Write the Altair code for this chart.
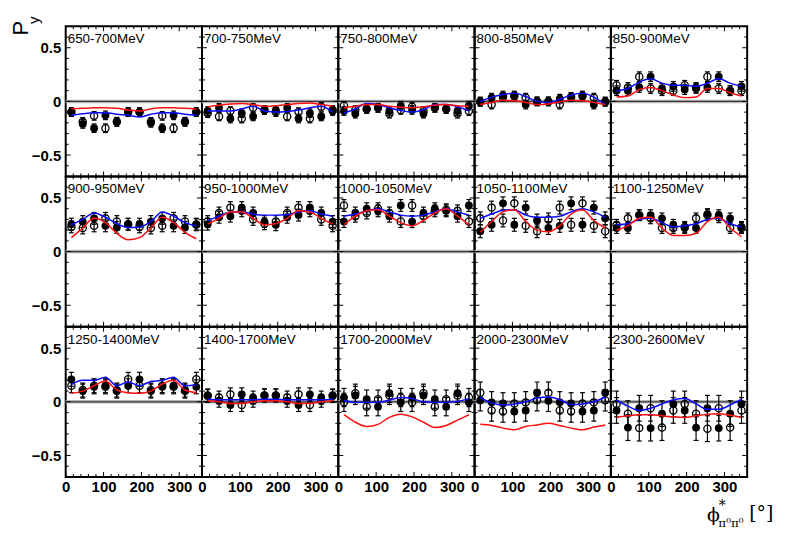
import altair as alt
import pandas as pd

PHI = [15, 45, 75, 105, 135, 165, 195, 225, 255, 285, 315, 345]

LABELS = ["650-700MeV", "700-750MeV", "750-800MeV", "800-850MeV", "850-900MeV",
          "900-950MeV", "950-1000MeV", "1000-1050MeV", "1050-1100MeV", "1100-1250MeV",
          "1250-1400MeV", "1400-1700MeV", "1700-2000MeV", "2000-2300MeV", "2300-2600MeV"]

FILLED = [
    [-0.10, -0.21, -0.25, -0.13, -0.19, -0.10, -0.10, -0.20, -0.25, -0.13, -0.19, -0.10],
    [-0.09, -0.06, -0.16, -0.11, -0.14, -0.08, -0.08, -0.06, -0.16, -0.11, -0.14, -0.09],
    [-0.09, -0.115, -0.07, -0.06, -0.09, -0.04, -0.08, -0.115, -0.06, -0.07, -0.09, -0.04],
    [0.00, 0.035, 0.055, 0.045, -0.03, 0.00, 0.00, 0.025, 0.04, 0.045, -0.03, 0.00],
    [0.10, 0.10, 0.13, 0.23, 0.12, 0.14, 0.11, 0.12, 0.13, 0.23, 0.10, 0.14],
    [0.256, 0.28, 0.31, 0.24, 0.225, 0.256, 0.256, 0.28, 0.31, 0.24, 0.225, 0.256],
    [0.256, 0.32, 0.33, 0.41, 0.36, 0.28, 0.25, 0.32, 0.34, 0.41, 0.36, 0.28],
    [0.28, 0.36, 0.40, 0.38, 0.33, 0.43, 0.28, 0.36, 0.40, 0.38, 0.33, 0.43],
    [0.19, 0.25, 0.45, 0.25, 0.41, 0.29, 0.22, 0.24, 0.45, 0.25, 0.41, 0.31],
    [0.22, 0.22, 0.34, 0.34, 0.31, 0.25, 0.22, 0.22, 0.35, 0.34, 0.31, 0.23],
    [0.21, 0.10, 0.14, 0.15, 0.11, 0.15, 0.21, 0.10, 0.14, 0.15, 0.11, 0.14],
    [0.055, 0.01, -0.03, 0.07, 0.04, 0.06, 0.06, 0.01, -0.03, 0.07, 0.04, 0.055],
    [0.04, 0.06, 0.025, -0.045, 0.08, -0.005, 0.04, 0.06, 0.025, -0.045, 0.08, -0.005],
    [0.015, -0.005, -0.015, -0.09, -0.08, 0.085, 0.01, -0.005, -0.015, -0.09, -0.08, 0.085],
    [-0.08, -0.24, -0.06, -0.245, -0.11, -0.02, -0.08, -0.24, -0.06, -0.245, -0.11, -0.02],
]

OPEN = [
    [-0.10, -0.19, -0.135, -0.25, -0.19, -0.10, -0.10, -0.19, -0.135, -0.25, -0.19, -0.10],
    [-0.11, -0.14, -0.09, -0.16, -0.06, -0.08, -0.10, -0.14, -0.10, -0.16, -0.05, -0.08],
    [-0.04, -0.08, -0.07, -0.06, -0.115, -0.08, -0.05, -0.09, -0.06, -0.07, -0.115, -0.09],
    [-0.005, -0.03, 0.04, 0.055, 0.035, 0.00, 0.00, -0.03, 0.04, 0.055, 0.035, -0.005],
    [0.15, 0.13, 0.23, 0.12, 0.10, 0.10, 0.15, 0.13, 0.23, 0.12, 0.10, 0.10],
    [0.23, 0.22, 0.24, 0.31, 0.28, 0.256, 0.23, 0.22, 0.24, 0.31, 0.28, 0.25],
    [0.28, 0.36, 0.41, 0.38, 0.30, 0.26, 0.28, 0.36, 0.41, 0.38, 0.30, 0.24],
    [0.43, 0.33, 0.36, 0.40, 0.36, 0.28, 0.43, 0.33, 0.38, 0.39, 0.38, 0.28],
    [0.31, 0.41, 0.29, 0.45, 0.24, 0.19, 0.30, 0.41, 0.25, 0.45, 0.24, 0.19],
    [0.25, 0.31, 0.34, 0.31, 0.22, 0.22, 0.23, 0.31, 0.34, 0.32, 0.22, 0.22],
    [0.15, 0.11, 0.15, 0.14, 0.10, 0.21, 0.15, 0.11, 0.15, 0.14, 0.10, 0.21],
    [0.06, 0.04, 0.07, -0.03, 0.01, 0.06, 0.06, 0.04, 0.07, -0.03, 0.01, 0.06],
    [-0.005, 0.08, -0.045, 0.025, 0.06, 0.04, -0.005, 0.08, -0.045, 0.025, 0.06, 0.04],
    [0.085, -0.08, -0.09, -0.015, -0.005, 0.015, 0.085, -0.08, -0.09, -0.015, -0.005, 0.015],
    [-0.02, -0.11, -0.245, -0.06, -0.24, -0.08, -0.02, -0.11, -0.25, -0.06, -0.24, -0.08],
]

ERR_FILLED = [0.04, 0.04, 0.04, 0.04, 0.045, 0.055, 0.055, 0.055, 0.06, 0.05,
              0.065, 0.06, 0.085, 0.10, 0.12]
ERR_OPEN = [0.04, 0.04, 0.04, 0.04, 0.045, 0.055, 0.055, 0.055, 0.06, 0.05,
            0.065, 0.06, 0.085, 0.10, 0.12]

BLUE = [
    [-0.13, -0.115, -0.105, -0.105, -0.12, -0.13, -0.145, -0.12, -0.105, -0.105, -0.12, -0.13],
    [-0.09, -0.09, -0.09, -0.07, -0.045, -0.09, -0.10, -0.095, -0.08, -0.06, -0.045, -0.10],
    [-0.11, -0.07, -0.02, -0.03, -0.06, -0.085, -0.10, -0.077, -0.03, -0.03, -0.05, -0.09],
    [0.00, 0.04, 0.065, 0.077, 0.045, 0.00, -0.01, 0.02, 0.06, 0.077, 0.04, -0.03],
    [0.10, 0.12, 0.18, 0.21, 0.17, 0.15, 0.15, 0.14, 0.17, 0.21, 0.17, 0.14],
    [0.25, 0.30, 0.36, 0.32, 0.26, 0.225, 0.23, 0.28, 0.37, 0.33, 0.27, 0.24],
    [0.29, 0.33, 0.37, 0.37, 0.35, 0.34, 0.34, 0.345, 0.37, 0.38, 0.35, 0.33],
    [0.33, 0.35, 0.38, 0.40, 0.37, 0.34, 0.33, 0.34, 0.37, 0.40, 0.37, 0.34],
    [0.31, 0.35, 0.385, 0.39, 0.34, 0.32, 0.32, 0.33, 0.37, 0.40, 0.37, 0.32],
    [0.25, 0.26, 0.30, 0.31, 0.27, 0.23, 0.24, 0.26, 0.30, 0.31, 0.26, 0.23],
    [0.16, 0.20, 0.20, 0.23, 0.15, 0.185, 0.15, 0.19, 0.20, 0.23, 0.15, 0.16],
    [0.025, 0.02, 0.02, 0.02, 0.02, 0.025, 0.025, 0.02, 0.02, 0.02, 0.02, 0.025],
    [0.015, -0.005, -0.005, -0.005, 0.015, 0.04, 0.03, 0.0, -0.005, -0.005, 0.005, 0.03],
    [0.04, -0.01, -0.03, -0.02, 0.0, 0.035, 0.045, 0.02, -0.025, -0.02, 0.0, 0.045],
    [0.015, -0.04, -0.08, -0.06, -0.02, 0.02, 0.03, -0.02, -0.07, -0.07, -0.03, 0.025],
]

RED = [
    [-0.07, -0.065, -0.06, -0.06, -0.065, -0.08, -0.09, -0.07, -0.06, -0.06, -0.065, -0.07],
    [-0.05, -0.035, -0.025, -0.02, -0.03, -0.045, -0.04, -0.03, -0.02, -0.015, -0.03, -0.045],
    [-0.06, -0.045, -0.03, -0.03, -0.045, -0.055, -0.06, -0.05, -0.035, -0.03, -0.04, -0.045],
    [-0.03, -0.01, 0.01, 0.005, -0.01, -0.03, -0.025, -0.005, 0.01, 0.005, -0.01, -0.03],
    [0.04, 0.05, 0.11, 0.13, 0.10, 0.06, 0.035, 0.04, 0.12, 0.12, 0.08, 0.05],
    [0.13, 0.22, 0.31, 0.27, 0.17, 0.11, 0.13, 0.22, 0.32, 0.27, 0.18, 0.12],
    [0.256, 0.31, 0.37, 0.37, 0.31, 0.25, 0.26, 0.31, 0.38, 0.37, 0.31, 0.256],
    [0.25, 0.33, 0.38, 0.39, 0.33, 0.27, 0.24, 0.29, 0.36, 0.40, 0.33, 0.25],
    [0.18, 0.28, 0.37, 0.39, 0.28, 0.20, 0.185, 0.24, 0.35, 0.39, 0.29, 0.22],
    [0.20, 0.24, 0.31, 0.32, 0.22, 0.15, 0.15, 0.17, 0.28, 0.32, 0.22, 0.14],
    [0.08, 0.10, 0.15, 0.195, 0.11, 0.085, 0.08, 0.10, 0.165, 0.20, 0.11, 0.085],
    [0.01, 0.0, -0.015, -0.015, 0.0, 0.01, 0.01, 0.0, -0.015, -0.015, 0.0, 0.01],
    [-0.12, -0.19, -0.23, -0.21, -0.145, -0.115, -0.14, -0.19, -0.24, -0.22, -0.17, -0.12],
    [-0.21, -0.22, -0.245, -0.26, -0.23, -0.215, -0.20, -0.22, -0.245, -0.26, -0.235, -0.215],
    [-0.145, -0.13, -0.12, -0.12, -0.13, -0.14, -0.145, -0.13, -0.115, -0.11, -0.125, -0.145],
]

X_LABELS = [0, 100, 200, 300]
X_MINOR = [20, 40, 60, 80, 120, 140, 160, 180, 220, 240, 260, 280, 320, 340]
Y_LABELS = [-0.5, 0, 0.5]
Y_MINOR = [-0.6, -0.4, -0.3, -0.2, -0.1, 0.1, 0.2, 0.3, 0.4, 0.6]

W, H = 137, 151
FONT = "Liberation Sans"
SERIF = "DejaVu Serif"
MAJ, MIN = 5, 3


def panel(i):
    row, col = divmod(i, 5)
    xscale = alt.Scale(domain=[0, 360], nice=False, zero=False)
    yscale = alt.Scale(domain=[-0.7, 0.7], nice=False, zero=False)
    if row == 2:
        xaxis = alt.Axis(values=X_LABELS, format="d", title=None, ticks=False, tickSize=0,
                         domain=False, grid=False, labelFlush=False, labelOverlap=False,
                         labelPadding=3, labelFont=FONT, labelFontSize=15,
                         labelFontWeight="bold", labelColor="black")
    else:
        xaxis = None
    if col == 0:
        yaxis = alt.Axis(values=Y_LABELS, format="~g", title=None, ticks=False, tickSize=0,
                         domain=False, grid=False, labelOverlap=False, labelPadding=5,
                         labelFont=FONT, labelFontSize=15, labelFontWeight="bold",
                         labelColor="black")
    else:
        yaxis = None

    def X(f):
        return alt.X(f"{f}:Q", scale=xscale, axis=xaxis)

    def Y(f):
        return alt.Y(f"{f}:Q", scale=yscale, axis=yaxis)

    filled = pd.DataFrame({"phi": PHI, "val": FILLED[i]})
    filled["lo"] = filled["val"] - ERR_FILLED[i]
    filled["hi"] = filled["val"] + ERR_FILLED[i]
    opened = pd.DataFrame({"phi": PHI, "val": OPEN[i]})
    opened["lo"] = opened["val"] - ERR_OPEN[i]
    opened["hi"] = opened["val"] + ERR_OPEN[i]
    pts = pd.concat([filled, opened], ignore_index=True)
    caps = pd.DataFrame({"phi": list(pts["phi"]) * 2,
                         "c": list(pts["lo"]) + list(pts["hi"])})
    curves = pd.DataFrame({"phi": PHI * 2, "val": BLUE[i] + RED[i],
                           "model": ["blue"] * 12 + ["red"] * 12})

    zero = pd.DataFrame({"z": [0.0]})
    xmaj = pd.DataFrame({"t": X_LABELS})
    xmin = pd.DataFrame({"t": X_MINOR})
    ymaj = pd.DataFrame({"t": Y_LABELS})
    ymin = pd.DataFrame({"t": Y_MINOR})

    layers = []
    layers.append(alt.Chart(zero).mark_rule(color="#b8b8b8", strokeWidth=3.5).encode(y=Y("z")))
    layers.append(alt.Chart(zero).mark_rule(color="#3a3a3a", strokeWidth=1.2).encode(y=Y("z")))

    # ticks
    for df, ln in ((xmaj, MAJ), (xmin, MIN)):
        layers.append(alt.Chart(df).mark_rule(color="black", strokeWidth=1).encode(
            x=X("t"), y=alt.value(H), y2=alt.value(H - ln)))
        layers.append(alt.Chart(df).mark_rule(color="black", strokeWidth=1).encode(
            x=X("t"), y=alt.value(0), y2=alt.value(ln)))
    for df, ln in ((ymaj, MAJ), (ymin, MIN)):
        layers.append(alt.Chart(df).mark_rule(color="black", strokeWidth=1).encode(
            y=Y("t"), x=alt.value(0), x2=alt.value(ln)))
        layers.append(alt.Chart(df).mark_rule(color="black", strokeWidth=1).encode(
            y=Y("t"), x=alt.value(W), x2=alt.value(W - ln)))

    # error bars
    layers.append(alt.Chart(pts).mark_rule(color="black", strokeWidth=1.2).encode(
        x=X("phi"), y=Y("lo"), y2="hi"))
    layers.append(alt.Chart(caps).mark_tick(orient="horizontal", size=5, thickness=1.2,
                                            color="black", opacity=1).encode(
        x=X("phi"), y=Y("c")))
    # open then filled circles
    layers.append(alt.Chart(opened).mark_point(shape="circle", filled=False, size=52,
                                               strokeWidth=1.3, color="black", opacity=1).encode(
        x=X("phi"), y=Y("val")))
    layers.append(alt.Chart(filled).mark_point(shape="circle", filled=True, size=62,
                                               color="black", opacity=1).encode(
        x=X("phi"), y=Y("val")))
    # model curves
    layers.append(alt.Chart(curves).mark_line(interpolate="monotone", strokeWidth=1.5).encode(
        x=X("phi"), y=Y("val"),
        color=alt.Color("model:N", scale=alt.Scale(domain=["blue", "red"],
                                                    range=["#0a0aff", "#ff1010"]), legend=None)))

    # panel label
    layers.append(alt.Chart(pd.DataFrame({"label": [LABELS[i]]})).mark_text(
        align="left", baseline="alphabetic", font=FONT, fontSize=13.5, color="black").encode(
        text="label:N", x=alt.value(2), y=alt.value(17)))

    if i == 0:
        layers.append(alt.Chart(pd.DataFrame({"s": ["P"]})).mark_text(
            angle=270, align="center", baseline="middle", font=FONT, fontSize=22,
            color="black").encode(text="s:N", x=alt.value(-45), y=alt.value(2)))
        layers.append(alt.Chart(pd.DataFrame({"s": ["y"]})).mark_text(
            angle=270, align="center", baseline="middle", font=FONT, fontSize=15,
            color="black").encode(text="s:N", x=alt.value(-32), y=alt.value(-6)))
    if i == 14:
        layers.append(alt.Chart(pd.DataFrame({"s": ["ϕ"]})).mark_text(
            align="center", baseline="middle", font=SERIF, fontSize=19,
            color="black").encode(text="s:N", x=alt.value(103), y=alt.value(189)))
        layers.append(alt.Chart(pd.DataFrame({"s": ["*"]})).mark_text(
            align="center", baseline="middle", font=SERIF, fontSize=14,
            color="black").encode(text="s:N", x=alt.value(112), y=alt.value(180)))
        layers.append(alt.Chart(pd.DataFrame({"s": ["π⁰π⁰"]})).mark_text(
            align="left", baseline="middle", font=SERIF, fontSize=12,
            color="black").encode(text="s:N", x=alt.value(108), y=alt.value(197)))
        layers.append(alt.Chart(pd.DataFrame({"s": ["[°]"]})).mark_text(
            align="left", baseline="middle", font=SERIF, fontSize=19,
            color="black").encode(text="s:N", x=alt.value(139), y=alt.value(187)))

    return alt.layer(*layers).properties(width=W, height=H)


panels = [panel(i) for i in range(15)]

chart = alt.concat(*panels, columns=5, spacing=0, bounds="flush").configure_view(
    stroke="black", strokeWidth=2
).properties(
    padding={"left": 1, "top": 6, "right": 5, "bottom": 5}
)

chart.save("out.html", embed_options={"renderer": "svg", "actions": False})
